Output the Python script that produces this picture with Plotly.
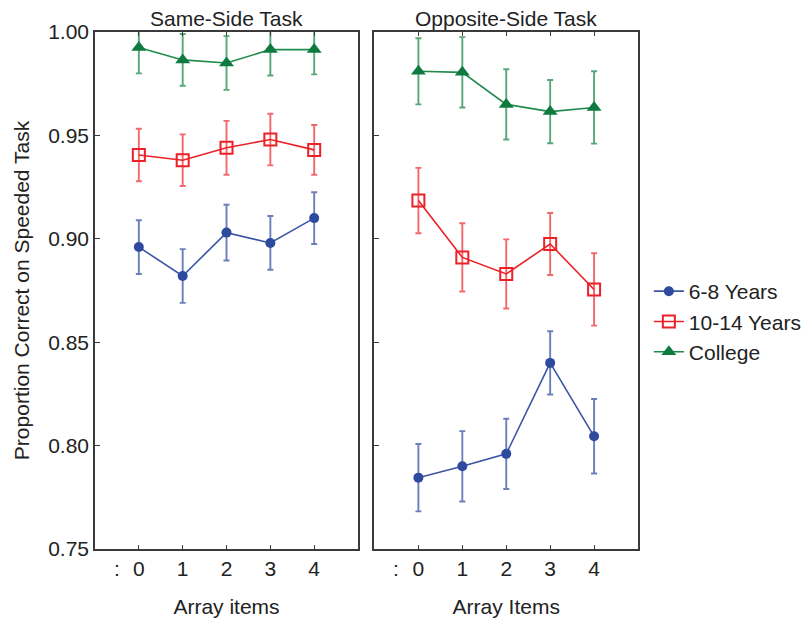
import plotly.graph_objects as go

array_items = [0, 1, 2, 3, 4]
tick_labels = ["0", "1", "2", "3", "4"]
y_ticks = [0.75, 0.80, 0.85, 0.90, 0.95, 1.00]
y_tick_labels = ["0.75", "0.80", "0.85", "0.90", "0.95", "1.00"]
groups = ["6-8 Years", "10-14 Years", "College"]

# Same-side task
same_young = [0.896, 0.882, 0.903, 0.898, 0.910]
same_young_err = [0.013, 0.013, 0.0135, 0.013, 0.0125]
same_mid = [0.9405, 0.938, 0.944, 0.948, 0.943]
same_mid_err = [0.0127, 0.0125, 0.013, 0.0125, 0.012]
same_college = [0.9925, 0.9865, 0.985, 0.9915, 0.9915]
same_college_err = [0.0125, 0.0125, 0.013, 0.0125, 0.012]

# Opposite-side task
opp_young = [0.7845, 0.790, 0.796, 0.840, 0.8045]
opp_young_err = [0.0163, 0.017, 0.017, 0.0153, 0.018]
opp_mid = [0.9185, 0.891, 0.883, 0.8975, 0.8755]
opp_mid_err = [0.0158, 0.0165, 0.0167, 0.015, 0.0175]
opp_college = [0.981, 0.9805, 0.965, 0.9615, 0.9635]
opp_college_err = [0.016, 0.017, 0.017, 0.0153, 0.0175]

styles = {
    "6-8 Years": dict(line="#3A55A6", marker="#2D4A9E", err="rgba(70,95,170,0.8)",
                      symbol="circle", size=10, mline=0),
    "10-14 Years": dict(line="#EC2027", marker="#EC2027", err="rgba(236,40,45,0.7)",
                        symbol="square-open", size=12, mline=2),
    "College": dict(line="#1E8A4E", marker="#0E7A40", err="rgba(30,138,78,0.75)",
                    symbol="triangle-up", size=13, mline=0),
}

fig = go.Figure()

panels = [
    ("x", "y", [same_young, same_mid, same_college],
     [same_young_err, same_mid_err, same_college_err], True),
    ("x2", "y2", [opp_young, opp_mid, opp_college],
     [opp_young_err, opp_mid_err, opp_college_err], False),
]

for xa, ya, vals, errs, show in panels:
    for g, v, e in zip(groups, vals, errs):
        s = styles[g]
        fig.add_trace(go.Scatter(
            x=array_items, y=v, xaxis=xa, yaxis=ya, name=g,
            mode="lines+markers", showlegend=show, legendgroup=g,
            line=dict(color=s["line"], width=1.6),
            marker=dict(symbol=s["symbol"], size=s["size"], color=s["marker"],
                        line=dict(width=s["mline"], color=s["marker"])),
            error_y=dict(type="data", array=e, visible=True, color=s["err"],
                         thickness=1.9, width=3),
        ))

frame_color = "#3a3a3a"
text_color = "#222222"
font_family = "Liberation Sans, Arial, sans-serif"
fs = 21

xcommon = dict(range=[-1, 5], tickmode="array", tickvals=array_items, ticktext=tick_labels,
               ticks="inside", ticklen=4, tickwidth=1.2, tickcolor=frame_color,
               showline=True, linecolor=frame_color, linewidth=1.5, mirror="ticks",
               showgrid=False, zeroline=False,
               tickfont=dict(size=fs, color=text_color, family=font_family),
               title_font=dict(size=fs, color=text_color, family=font_family))
ycommon = dict(range=[0.75, 1.0], tickmode="array", tickvals=y_ticks, ticktext=y_tick_labels,
               ticks="inside", ticklen=5, tickwidth=1.2, tickcolor=frame_color,
               showline=True, linecolor=frame_color, linewidth=1.5, mirror=True,
               showgrid=False, zeroline=False,
               tickfont=dict(size=fs, color=text_color, family=font_family),
               title_font=dict(size=fs, color=text_color, family=font_family))
yright = dict(range=[0, 6], tickmode="array", tickvals=[1, 2, 3, 4, 5], side="right",
              ticks="inside", ticklen=5, tickwidth=1.2, tickcolor=frame_color,
              showticklabels=False, showline=False, showgrid=False, zeroline=False)

d1 = [0, 0.4844]
d2 = [0.5147, 1.0]

fig.update_layout(
    width=811, height=620,
    margin=dict(l=87, r=179, t=22, b=79),
    paper_bgcolor="white", plot_bgcolor="white",
    font=dict(family=font_family, color=text_color, size=fs),
    xaxis=dict(domain=d1, anchor="y", title=dict(text="Array items", standoff=20), **xcommon),
    xaxis2=dict(domain=d2, anchor="y2", title=dict(text="Array Items", standoff=20), **xcommon),
    yaxis=dict(domain=[0, 1], anchor="x", title=dict(text="Proportion Correct on Speeded Task", standoff=13), **ycommon),
    yaxis2=dict(domain=[0, 1], anchor="x2", matches="y", showticklabels=False, **ycommon),
    yaxis3=dict(overlaying="y", anchor="x", **yright),
    yaxis4=dict(overlaying="y2", anchor="x2", **yright),
    legend=dict(x=1.02, y=0.44, xanchor="left", yanchor="middle",
                font=dict(size=fs, color=text_color, family=font_family),
                bgcolor="rgba(0,0,0,0)", tracegroupgap=0),
    annotations=[
        dict(text="Same-Side Task", x=sum(d1) / 2, y=1, xref="paper", yref="paper",
             xanchor="center", yanchor="bottom", yshift=0, showarrow=False,
             font=dict(size=fs, color=text_color, family=font_family)),
        dict(text="Opposite-Side Task", x=sum(d2) / 2, y=1, xref="paper", yref="paper",
             xanchor="center", yanchor="bottom", yshift=0, showarrow=False,
             font=dict(size=fs, color=text_color, family=font_family)),
        dict(text=":", x=-0.5, y=0, xref="x", yref="paper", xanchor="center", yanchor="top",
             yshift=-6, showarrow=False, font=dict(size=fs, color=text_color, family=font_family)),
        dict(text=":", x=-0.5, y=0, xref="x2", yref="paper", xanchor="center", yanchor="top",
             yshift=-6, showarrow=False, font=dict(size=fs, color=text_color, family=font_family)),
    ],
)

fig.write_html("out.html")
